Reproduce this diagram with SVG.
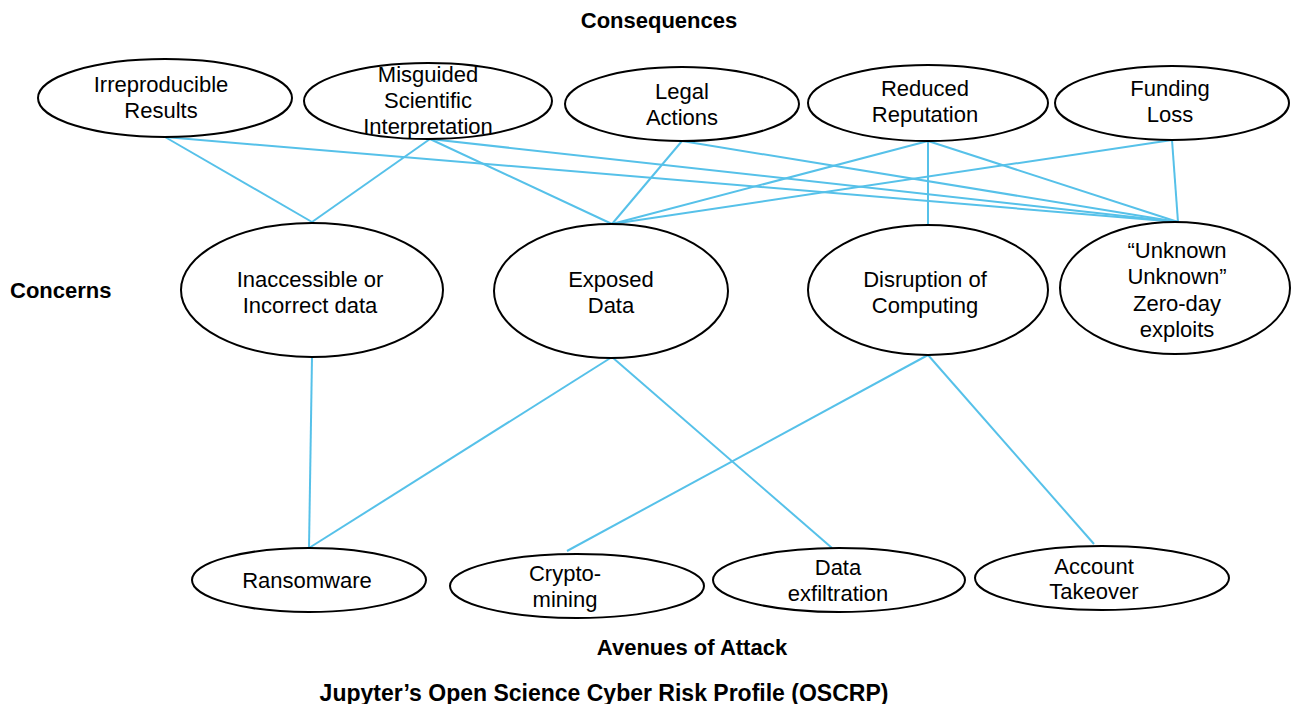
<svg xmlns="http://www.w3.org/2000/svg" width="1291" height="704" viewBox="0 0 1291 704">
<style>
.n{fill:#fff;stroke:#000;stroke-width:2}
.t{font-family:"Liberation Sans",Arial,sans-serif;font-size:22px;fill:#000;text-anchor:middle}
.h{font-family:"Liberation Sans",Arial,sans-serif;font-size:22px;font-weight:bold;fill:#000;text-anchor:middle}
.c{stroke:#56C1E9;stroke-width:2;fill:none}
</style>
<rect width="1291" height="704" fill="#fff"/>
<g id="connectors" class="c">
<line x1="165" y1="137" x2="312" y2="222"/>
<line x1="165" y1="137" x2="1178" y2="222"/>
<line x1="430" y1="139" x2="312" y2="222"/>
<line x1="430" y1="139" x2="612" y2="224"/>
<line x1="430" y1="139" x2="1178" y2="222"/>
<line x1="682" y1="141" x2="612" y2="224"/>
<line x1="682" y1="141" x2="1178" y2="222"/>
<line x1="928" y1="141" x2="612" y2="224"/>
<line x1="928" y1="141" x2="928" y2="225"/>
<line x1="928" y1="141" x2="1178" y2="222"/>
<line x1="1172" y1="140" x2="612" y2="224"/>
<line x1="1172" y1="140" x2="1178" y2="222"/>
<line x1="312" y1="357" x2="309" y2="548"/>
<line x1="612" y1="357" x2="309" y2="548"/>
<line x1="612" y1="357" x2="832" y2="548"/>
<line x1="928" y1="355" x2="567" y2="551"/>
<line x1="928" y1="355" x2="1094" y2="544"/>
</g>
<g id="labels">
<text class="h" x="659" y="28">Consequences</text>
<text class="h" x="10" y="298" style="text-anchor:start">Concerns</text>
<text class="h" x="692" y="655">Avenues of Attack</text>
<text class="h" x="604" y="701" style="font-size:23px">Jupyter’s Open Science Cyber Risk Profile (OSCRP)</text>
</g>
<g id="irreproducible">
<ellipse class="n" cx="165" cy="98" rx="127" ry="39"/>
<text class="t" x="161" y="92">Irreproducible</text>
<text class="t" x="161" y="118">Results</text>
</g>
<g id="misguided">
<ellipse class="n" cx="428" cy="101" rx="124" ry="38"/>
<text class="t" x="428" y="82">Misguided</text>
<text class="t" x="428" y="108">Scientific</text>
<text class="t" x="428" y="134">Interpretation</text>
</g>
<g id="legal">
<ellipse class="n" cx="682" cy="104" rx="117" ry="37"/>
<text class="t" x="682" y="99">Legal</text>
<text class="t" x="682" y="125">Actions</text>
</g>
<g id="reputation">
<ellipse class="n" cx="928" cy="103" rx="120" ry="38"/>
<text class="t" x="925" y="96">Reduced</text>
<text class="t" x="925" y="122">Reputation</text>
</g>
<g id="funding">
<ellipse class="n" cx="1172" cy="103" rx="117" ry="37"/>
<text class="t" x="1170" y="96">Funding</text>
<text class="t" x="1170" y="122">Loss</text>
</g>
<g id="inaccessible">
<ellipse class="n" cx="312" cy="290" rx="131" ry="67"/>
<text class="t" x="310" y="287">Inaccessible or</text>
<text class="t" x="310" y="313">Incorrect data</text>
</g>
<g id="exposed">
<ellipse class="n" cx="611" cy="291" rx="117" ry="67"/>
<text class="t" x="611" y="287">Exposed</text>
<text class="t" x="611" y="313">Data</text>
</g>
<g id="disruption">
<ellipse class="n" cx="928" cy="290" rx="120" ry="65"/>
<text class="t" x="925" y="287">Disruption of</text>
<text class="t" x="925" y="313">Computing</text>
</g>
<g id="unknown">
<ellipse class="n" cx="1175" cy="288" rx="115" ry="66"/>
<text class="t" x="1177" y="258">“Unknown</text>
<text class="t" x="1177" y="284">Unknown”</text>
<text class="t" x="1177" y="311">Zero-day</text>
<text class="t" x="1177" y="337">exploits</text>
</g>
<g id="ransomware">
<ellipse class="n" cx="309" cy="580" rx="117" ry="32"/>
<text class="t" x="307" y="588">Ransomware</text>
</g>
<g id="cryptomining">
<ellipse class="n" cx="577" cy="586" rx="127" ry="32"/>
<text class="t" x="565" y="581">Crypto-</text>
<text class="t" x="565" y="607">mining</text>
</g>
<g id="exfiltration">
<ellipse class="n" cx="839" cy="580" rx="126" ry="32"/>
<text class="t" x="838" y="575">Data</text>
<text class="t" x="838" y="601">exfiltration</text>
</g>
<g id="takeover">
<ellipse class="n" cx="1102" cy="578" rx="127" ry="32"/>
<text class="t" x="1094" y="574">Account</text>
<text class="t" x="1094" y="599">Takeover</text>
</g>
</svg>
